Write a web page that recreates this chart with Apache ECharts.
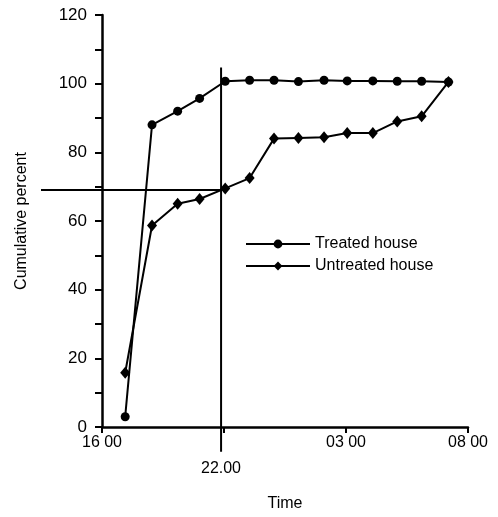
<!DOCTYPE html>
<html>
<head>
<meta charset="utf-8">
<script src="https://cdn.jsdelivr.net/npm/echarts@6/dist/echarts.min.js"></script>
<style>
  html, body { margin: 0; padding: 0; background: #fff; }
  #chart { width: 498px; height: 517px; }
</style>
</head>
<body>
<div id="chart"></div>
<script>
// hours counted from midnight of day 1 (24 = 00:00 next day)
const hours = [17.95, 19.05, 20.1, 21, 22.05, 23.05, 24.05, 25.05, 26.1, 27.05, 28.1, 29.1, 30.1, 31.2];
const treated = [3, 88, 92, 95.7, 100.7, 101, 101, 100.6, 101, 100.8, 100.8, 100.7, 100.7, 100.5];
const untreated = [15.8, 58.7, 65, 66.4, 69.5, 72.5, 84, 84.2, 84.4, 85.6, 85.6, 89, 90.5, 100.5];

// axis ticks as printed in the source (evenly spaced)
const xTickValues = [17, 22, 27, 32];
const xTickLabels = ["16 00", "22.00", "03 00", "08 00"];

// reference cross lines (22:00 / ~69 %)
const hLine = [[14.5, 69.4], [21.88, 69.4]];
const vLine = [[21.88, 104.7], [21.88, -7.2]];

const font = "Liberation Sans Narrow, Liberation Sans, sans-serif";

const chart = echarts.init(document.getElementById("chart"));

const refLine = (data, idx) => ({
  type: "line",
  data,
  xAxisIndex: idx,
  yAxisIndex: idx,
  symbol: "none",
  clip: false,
  silent: true,
  lineStyle: { color: "#000", width: 2 },
  z: 1
});

chart.setOption({
  animation: false,
  grid: [
    { left: 102, right: 30, top: 15, bottom: 87 },
    // wider hidden grid so the horizontal guide can reach past the y axis
    { left: 41, right: 30, top: 15, bottom: 87 }
  ],
  legend: {
    orient: "vertical",
    left: 245,
    top: 236,
    padding: 0,
    itemWidth: 64,
    itemHeight: 11,
    itemGap: 6,
    data: ["Treated house", "Untreated house"],
    textStyle: { fontFamily: font, fontSize: 16, color: "#000" }
  },
  xAxis: [
    {
      type: "value",
      min: 17,
      max: 32,
      interval: 5,
      name: "Time",
      nameLocation: "middle",
      nameGap: 69,
      nameTextStyle: { fontFamily: font, fontSize: 16, color: "#000" },
      axisLine: { lineStyle: { color: "#000", width: 2.5 } },
      axisTick: { length: 6, lineStyle: { color: "#000", width: 2 } },
      splitLine: { show: false },
      axisLabel: {
        margin: 8,
        fontFamily: font,
        fontSize: 16,
        color: "#000",
        formatter: v => {
          const i = xTickValues.indexOf(v);
          if (i < 0) return "";
          return v === 22 ? "{low|" + xTickLabels[i] + "}" : xTickLabels[i];
        },
        rich: { low: { fontFamily: font, fontSize: 16, color: "#000", padding: [26, 6, 0, 0] } }
      }
    },
    { gridIndex: 1, type: "value", min: 14.5, max: 32, show: false }
  ],
  yAxis: [
    {
      type: "value",
      min: 0,
      max: 120,
      interval: 10,
      name: "Cumulative percent",
      nameLocation: "middle",
      nameGap: 72,
      nameTextStyle: { fontFamily: font, fontSize: 16, color: "#000" },
      axisLine: { show: true, lineStyle: { color: "#000", width: 2.5 } },
      axisTick: { show: true, length: 7, lineStyle: { color: "#000", width: 2 } },
      splitLine: { show: false },
      axisLabel: {
        margin: 15,
        fontFamily: font,
        fontSize: 17,
        color: "#000",
        formatter: v => (v % 20 === 0 ? v : "")
      }
    },
    { gridIndex: 1, type: "value", min: 0, max: 120, show: false }
  ],
  series: [
    refLine(hLine, 1),
    refLine(vLine, 0),
    {
      name: "Treated house",
      type: "line",
      data: hours.map((h, i) => [h, treated[i]]),
      symbol: "circle",
      symbolSize: 9,
      color: "#000",
      lineStyle: { color: "#000", width: 2 },
      itemStyle: { color: "#000" },
      emphasis: { disabled: true },
      z: 3
    },
    {
      name: "Untreated house",
      type: "line",
      data: hours.map((h, i) => [h, untreated[i]]),
      symbol: "diamond",
      symbolSize: [10, 12],
      color: "#000",
      lineStyle: { color: "#000", width: 2 },
      itemStyle: { color: "#000" },
      emphasis: { disabled: true },
      z: 3
    }
  ]
});
</script>
</body>
</html>
